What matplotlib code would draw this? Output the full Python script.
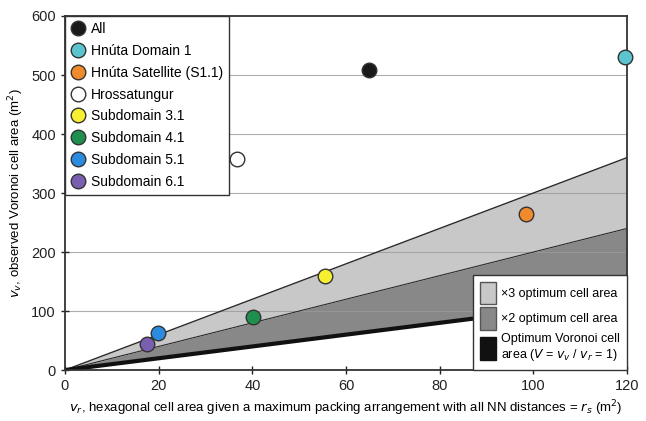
import matplotlib
matplotlib.use("Agg")
import matplotlib.pyplot as plt
import numpy as np
from matplotlib.patches import Patch
from matplotlib.lines import Line2D

plt.rcParams['font.family'] = ['Liberation Sans', 'DejaVu Sans']

names = ["All", "Hnúta Domain 1", "Hnúta Satellite (S1.1)", "Hrossatungur",
         "Subdomain 3.1", "Subdomain 4.1", "Subdomain 5.1", "Subdomain 6.1"]
x_vals = [65, 119.5, 98.5, 36.8, 55.5, 40.2, 19.8, 17.6]
y_vals = [508, 530, 265, 358, 160, 90, 62, 45]
face_colors = ["#1a1a1a", "#5bc4cf", "#f08a2c", "#ffffff",
               "#f7f030", "#1f8f4e", "#2a8be0", "#7a5fb0"]

ratios = [1, 2, 3]
x_range = [0, 120]
y_ticks = [0, 100, 200, 300, 400, 500, 600]
x_ticks = [0, 20, 40, 60, 80, 100, 120]

fig = plt.figure(figsize=(6.46, 4.21), dpi=100)
ax = fig.add_axes([0.1006, 0.121, 0.870, 0.841])

xs = np.array(x_range, dtype=float)

ax.fill_between(xs, ratios[1] * xs, ratios[2] * xs, color="#c8c8c8", zorder=1, lw=0)
ax.fill_between(xs, ratios[0] * xs, ratios[1] * xs, color="#888888", zorder=1, lw=0)
for yv in y_ticks[1:-1]:
    ax.axhline(yv, color="#9a9a9a", lw=0.8, zorder=1.5, alpha=0.8)
ax.plot(xs, ratios[2] * xs, color="#2a2a2a", lw=1.0, zorder=2)
ax.plot(xs, ratios[1] * xs, color="#2a2a2a", lw=0.8, zorder=2)
ax.plot(xs, ratios[0] * xs, color="#111111", lw=3, zorder=2)

handles = []
for name, xv, yv, fc in zip(names, x_vals, y_vals, face_colors):
    ax.scatter([xv], [yv], s=110, facecolor=fc, edgecolor="#333333", lw=1.0, zorder=5, clip_on=False)
    handles.append(Line2D([], [], marker="o", ls="", markersize=10.5,
                          markerfacecolor=fc, markeredgecolor="#333333", markeredgewidth=1.0))

leg1 = ax.legend(handles, names, loc="upper left", frameon=True, fancybox=False,
                 edgecolor="#333333", framealpha=1, fontsize=10, handletextpad=0.4,
                 borderaxespad=0, labelspacing=0.56, borderpad=0.45, handlelength=1.0)
leg1.get_frame().set_linewidth(1.0)
ax.add_artist(leg1)

h2 = [Patch(facecolor="#c8c8c8", edgecolor="#555555"),
      Patch(facecolor="#888888", edgecolor="#555555"),
      Patch(facecolor="#111111", edgecolor="#111111")]
l2 = ["×3 optimum cell area", "×2 optimum cell area",
      "Optimum Voronoi cell\narea ($V$ = $v_v$ / $v_r$ = 1)"]
leg2 = ax.legend(h2, l2, loc="lower right", frameon=True, fancybox=False,
                 edgecolor="#333333", framealpha=1, fontsize=9, handlelength=1.3,
                 handleheight=2.4, handletextpad=0.4, borderaxespad=0, labelspacing=0.25,
                 borderpad=0.55)
leg2.get_frame().set_linewidth(1.0)

ax.set_xlim(0, 120)
ax.set_ylim(0, 600)
ax.set_xticks(x_ticks)
ax.set_yticks(y_ticks)
ax.tick_params(direction="inout", length=6, width=1, labelsize=10.5, colors="#222222")
for s in ax.spines.values():
    s.set_linewidth(1.3)
    s.set_color("#333333")

ax.set_xlabel("$v_r$, hexagonal cell area given a maximum packing arrangement with all NN distances = $r_s$ (m$^2$)",
              fontsize=9.5, labelpad=4)
ax.set_ylabel("$v_v$, observed Voronoi cell area (m$^2$)", fontsize=9.5, labelpad=4)

fig.savefig("out.png", dpi=100)
